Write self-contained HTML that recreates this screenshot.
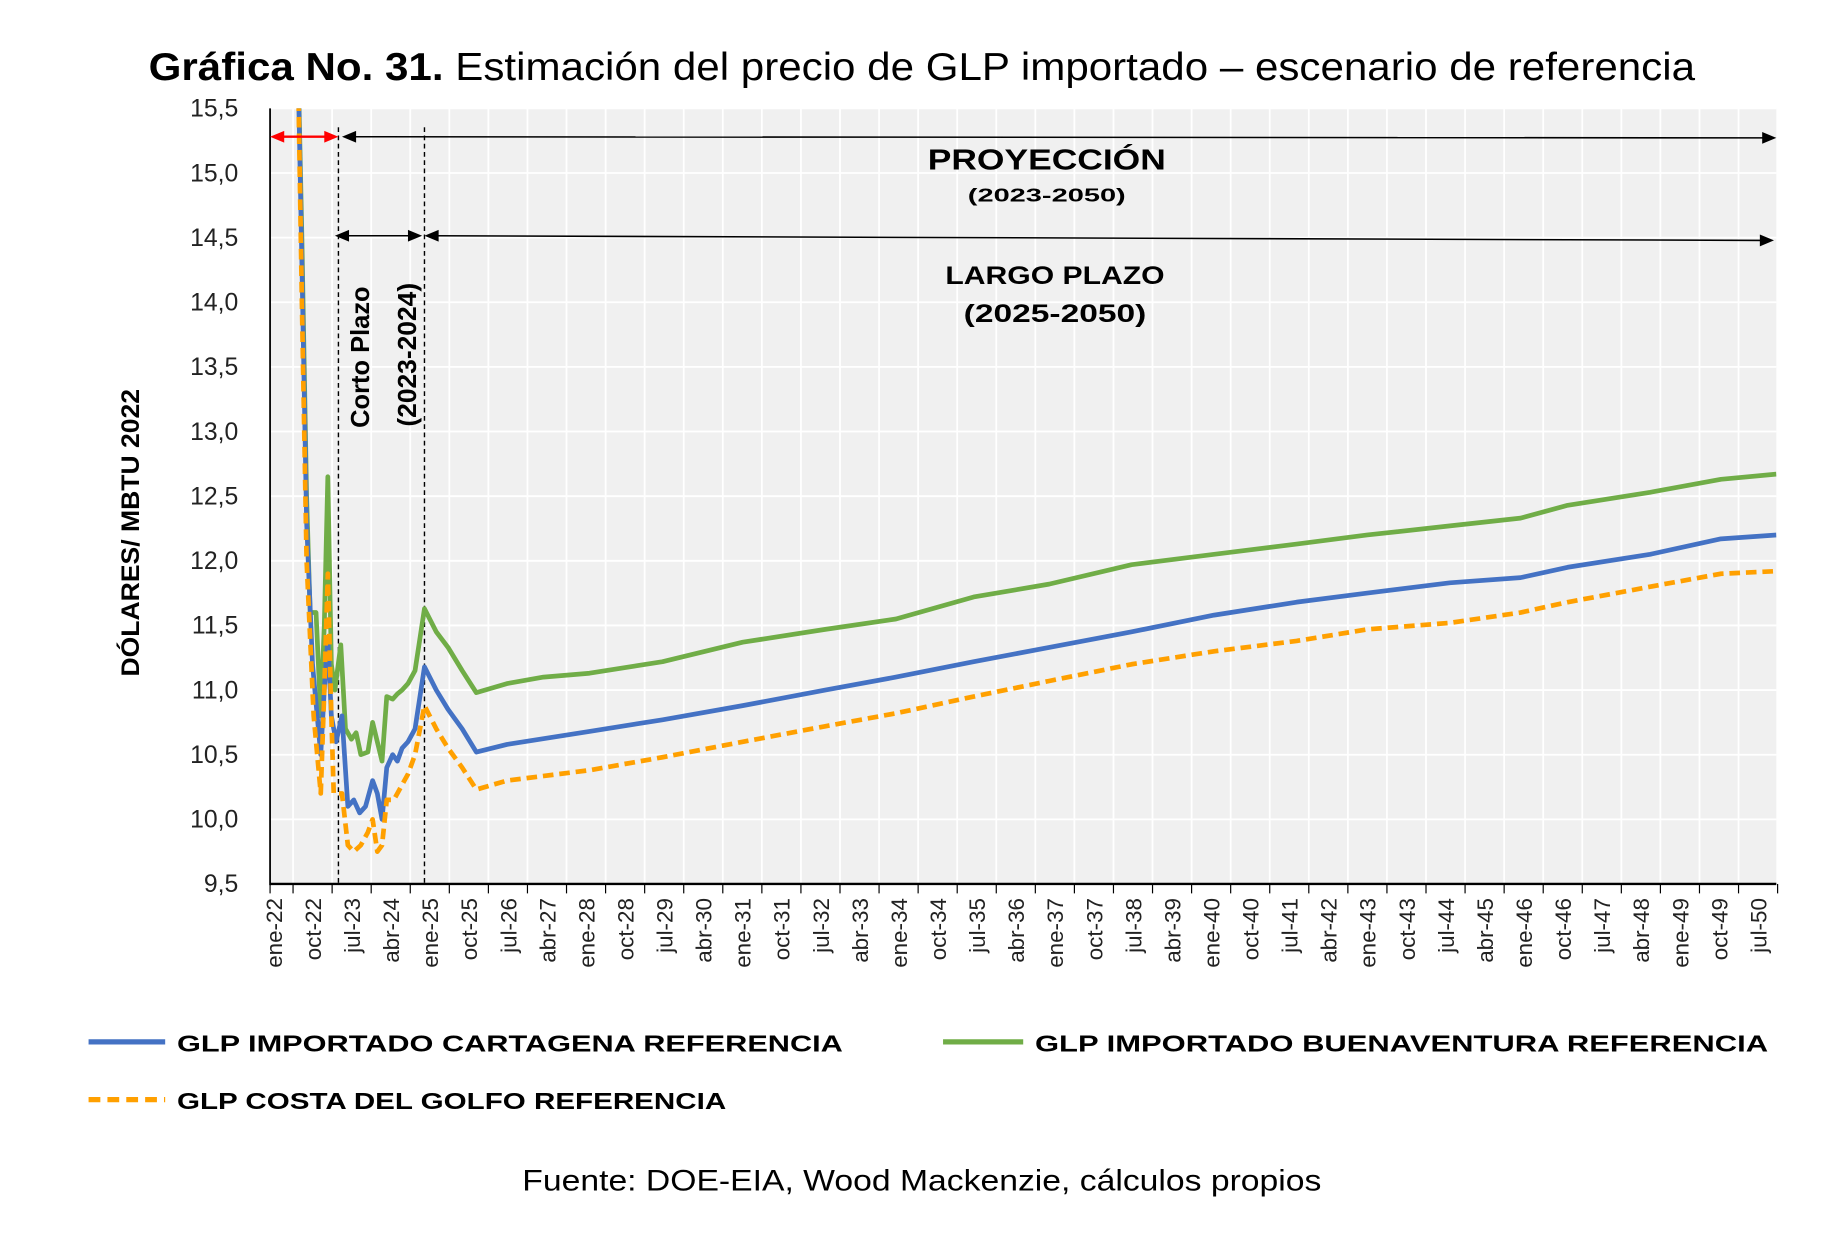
<!DOCTYPE html>
<html><head><meta charset="utf-8"><style>
html,body{margin:0;padding:0;background:#fff;}
svg{display:block;font-family:"Liberation Sans",sans-serif;}
</style></head><body>
<svg id="s" width="1826" height="1234" viewBox="0 0 1549 1047" xmlns="http://www.w3.org/2000/svg">
<rect width="1549" height="1047" fill="#fff"/>
<text x="126" y="68" font-size="33" fill="#000" textLength="1312" lengthAdjust="spacingAndGlyphs"><tspan font-weight="bold">Gráfica No. 31.</tspan> Estimación del precio de GLP importado – escenario de referencia</text>
<rect x="229" y="92" width="1278" height="658" fill="#f0f0f0"/>
<g id="grid" stroke="#fff" stroke-width="1.5"></g>
<g id="ylab" font-size="21" fill="#222" text-anchor="end"></g>
<g id="xlab" font-size="19" fill="#222"></g>
<line x1="229" y1="92" x2="229" y2="751" stroke="#000" stroke-width="1.5"/>
<line x1="229" y1="750" x2="1507" y2="750" stroke="#000" stroke-width="2"/>
<g id="ticks" stroke="#000" stroke-width="1"></g>
<line x1="287" y1="108" x2="287" y2="750" stroke="#000" stroke-width="1.2" stroke-dasharray="4,3"/>
<line x1="360" y1="108" x2="360" y2="750" stroke="#000" stroke-width="1.2" stroke-dasharray="4,3"/>
<g id="series" fill="none" stroke-linejoin="round"></g>
<line x1="236" y1="116" x2="281" y2="116" stroke="#f00" stroke-width="2"/>
<polygon points="229,116 241,111 241,121" fill="#f00"/>
<polygon points="287,116 275,111 275,121" fill="#f00"/>
<line x1="296" y1="116" x2="1500" y2="117" stroke="#000" stroke-width="1.3"/>
<polygon points="290,116 302,111 302,121" fill="#000"/>
<polygon points="1507,117 1495,112 1495,122" fill="#000"/>
<line x1="290" y1="200" x2="352" y2="200" stroke="#000" stroke-width="1.3"/>
<polygon points="284,200 296,195 296,205" fill="#000"/>
<polygon points="358,200 346,195 346,205" fill="#000"/>
<line x1="366" y1="200" x2="1498" y2="204" stroke="#000" stroke-width="1.3"/>
<polygon points="360,200 372,195 372,205" fill="#000"/>
<polygon points="1505,204 1493,199 1493,209" fill="#000"/>
<g font-weight="bold" fill="#000" text-anchor="middle">
<text x="888" y="144" font-size="24" textLength="202" lengthAdjust="spacingAndGlyphs">PROYECCIÓN</text>
<text x="888" y="171" font-size="16" textLength="134" lengthAdjust="spacingAndGlyphs">(2023-2050)</text>
<text x="895" y="241" font-size="21" textLength="186" lengthAdjust="spacingAndGlyphs">LARGO PLAZO</text>
<text x="895" y="273" font-size="21" textLength="155" lengthAdjust="spacingAndGlyphs">(2025-2050)</text>
<text transform="translate(313,303) rotate(-90)" font-size="22" textLength="120" lengthAdjust="spacingAndGlyphs">Corto Plazo</text>
<text transform="translate(353,301) rotate(-90)" font-size="22" textLength="122" lengthAdjust="spacingAndGlyphs">(2023-2024)</text>
<text transform="translate(118,452) rotate(-90)" font-size="21" textLength="244" lengthAdjust="spacingAndGlyphs">DÓLARES/ MBTU 2022</text>
</g>
<line x1="75" y1="884" x2="140" y2="884" stroke="#4472c4" stroke-width="4.5"/>
<text x="150" y="892" font-size="20" font-weight="bold" textLength="565" lengthAdjust="spacingAndGlyphs">GLP IMPORTADO CARTAGENA REFERENCIA</text>
<line x1="800" y1="884" x2="868" y2="884" stroke="#70ad47" stroke-width="4.5"/>
<text x="878" y="892" font-size="20" font-weight="bold" textLength="622" lengthAdjust="spacingAndGlyphs">GLP IMPORTADO BUENAVENTURA REFERENCIA</text>
<line x1="75" y1="933" x2="140" y2="933" stroke="#ffa000" stroke-width="4.5" stroke-dasharray="10,6"/>
<text x="150" y="941" font-size="20" font-weight="bold" textLength="466" lengthAdjust="spacingAndGlyphs">GLP COSTA DEL GOLFO REFERENCIA</text>
<text x="443" y="1010" font-size="25" textLength="678" lengthAdjust="spacingAndGlyphs">Fuente: DOE-EIA, Wood Mackenzie, cálculos propios</text>
</svg>
<script>
var NS="http://www.w3.org/2000/svg";
function el(p,t,a,txt){var e=document.createElementNS(NS,t);for(var k in a)e.setAttribute(k,a[k]);if(txt)e.textContent=txt;document.getElementById(p).appendChild(e);return e;}
function Y(v){return 750-(v-9.5)*109.67;}
for(var i=0;i<=12;i++){var v=9.5+i*0.5,y=Y(v);if(i>0)el("grid","line",{x1:229,x2:1507,y1:y,y2:y});
el("ylab","text",{x:202,y:y+7},v.toFixed(1).replace(".",","));}
var mon=["ene","abr","jul","oct"];
for(var i=0;i<=38;i++){var m=i*9,x=232+m*3.683;
 el("grid","line",{x1:x+16.5,x2:x+16.5,y1:92,y2:750});
 el("ticks","line",{x1:x+16.5,x2:x+16.5,y1:750,y2:758});
 var yr=22+Math.floor(m/12),mo=mon[(m%12)/3];
 el("xlab","text",{transform:"translate("+(x+7)+",762) rotate(-90)","text-anchor":"end"},mo+"-"+yr);}
el("ticks","line",{x1:229,x2:229,y1:750,y2:758});
function path(pts){return pts.map(function(p,i){return (i?"L":"M")+p[0]+","+Y(p[1]).toFixed(1);}).join(" ");}
var green=[[252,16.2],[256,14.5],[260,12.5],[263,11.6],[268,11.6],[272,10.8],[275,11.5],[278,12.65],[281,11.2],[284,11.0],[289,11.35],[293,10.7],[298,10.62],[302,10.67],[306,10.5],[312,10.52],[316,10.75],[320,10.6],[324,10.45],[328,10.95],[333,10.93],[337,10.97],[341,11.0],[346,11.05],[352,11.15],[360,11.63],[370,11.45],[380,11.33],[392,11.15],[404,10.98],[430,11.05],[461,11.1],[500,11.13],[562,11.22],[630,11.37],[700,11.47],[760,11.55],[826,11.72],[890,11.82],[960,11.97],[1030,12.05],[1100,12.13],[1160,12.2],[1230,12.27],[1290,12.33],[1330,12.43],[1400,12.53],[1460,12.63],[1507,12.67]];
var blue=[[252,16.2],[256,14.3],[260,12.3],[265,11.2],[272,10.5],[275,11.0],[278,11.4],[281,10.8],[285,10.6],[290,10.8],[295,10.1],[300,10.15],[305,10.05],[310,10.1],[316,10.3],[320,10.2],[324,10.0],[328,10.4],[333,10.5],[337,10.45],[341,10.55],[346,10.6],[352,10.7],[360,11.18],[370,11.0],[380,10.85],[392,10.7],[404,10.52],[430,10.58],[500,10.68],[562,10.77],[630,10.88],[700,11.0],[760,11.1],[826,11.22],[890,11.33],[960,11.45],[1030,11.58],[1100,11.68],[1160,11.75],[1230,11.83],[1290,11.87],[1330,11.95],[1400,12.05],[1460,12.17],[1507,12.2]];
var orange=[[252,16.2],[256,14.0],[260,12.0],[266,10.8],[272,10.2],[275,11.0],[278,11.9],[281,10.8],[283,10.2],[290,10.2],[295,9.8],[300,9.75],[306,9.8],[312,9.9],[316,10.0],[320,9.75],[324,9.8],[328,10.15],[334,10.15],[340,10.25],[346,10.35],[352,10.5],[360,10.88],[370,10.7],[380,10.55],[392,10.4],[404,10.23],[430,10.3],[500,10.38],[562,10.48],[630,10.6],[700,10.72],[760,10.82],[826,10.95],[890,11.07],[960,11.2],[1030,11.3],[1100,11.38],[1160,11.47],[1230,11.52],[1290,11.6],[1330,11.68],[1400,11.8],[1460,11.9],[1507,11.92]];
var clip=el("series","clipPath",{id:"cp"});var r=document.createElementNS(NS,"rect");r.setAttribute("x",229);r.setAttribute("y",92);r.setAttribute("width",1278);r.setAttribute("height",658);clip.appendChild(r);
el("series","path",{d:path(green),stroke:"#70ad47","stroke-width":4,"clip-path":"url(#cp)"});
el("series","path",{d:path(blue),stroke:"#4472c4","stroke-width":4,"clip-path":"url(#cp)"});
el("series","path",{d:path(orange),stroke:"#ffa000","stroke-width":4,"stroke-dasharray":"9,5","clip-path":"url(#cp)"});
</script>
</body></html>
